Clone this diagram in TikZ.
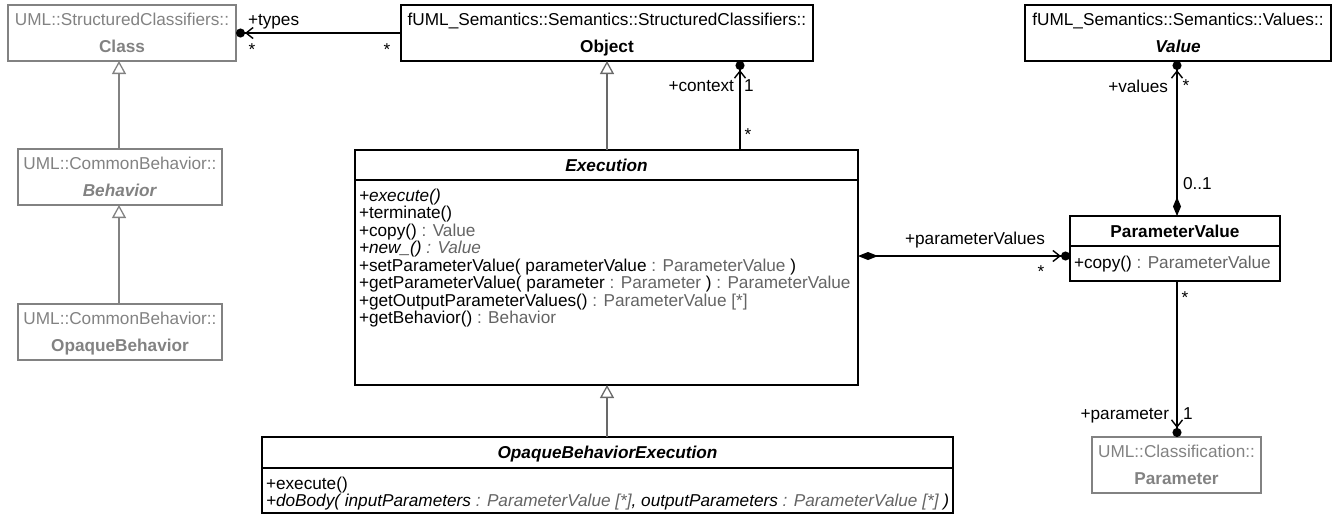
\documentclass[tikz,border=0pt]{standalone}
\usepackage{fontspec}
\setmainfont{Liberation Sans}
\usetikzlibrary{arrows.meta}
\definecolor{boxgray}{RGB}{130,130,130}
\definecolor{typegray}{RGB}{100,100,100}
\definecolor{gengray}{RGB}{105,105,105}
\newcommand{\tg}[1]{\textcolor{typegray}{#1}}
\begin{document}
\begin{tikzpicture}[x=1pt,y=-1pt,
  every node/.style={font=\fontsize{17.2}{17.5}\selectfont, inner sep=0pt, outer sep=0pt},
  blackbox/.style={draw=black, line width=1.3pt, anchor=north west, minimum width=#1},
  graybox/.style={draw=boxgray, line width=1.3pt, anchor=north west, minimum width=#1},
  grytxt/.style={text=boxgray, anchor=base},
  hdr/.style={anchor=base},
  op/.style={anchor=base west},
  assoc/.style={draw=black, line width=1.4pt},
  gen/.style={line width=1.3pt, draw=#1, -{Triangle[open, length=13pt, width=14pt]}},
  sep/.style={draw=black, line width=1.3pt}
]
\useasboundingbox (0,0) rectangle (1338,523);

% ---------- boxes ----------
\node[graybox=228pt, minimum height=56pt] (cls) at (8,5) {};
\node[grytxt] (clsA) at (122,25) {UML::StructuredClassifiers::};
\node[grytxt] (clsB) at (122,52) {\textbf{Class}};

\node[graybox=204pt, minimum height=56pt] (beh) at (18,149) {};
\node[grytxt] (behA) at (120,169) {UML::CommonBehavior::};
\node[grytxt] (behB) at (120,196) {\textbf{\textit{Behavior}}};

\node[graybox=204pt, minimum height=56pt] (obh) at (18,304) {};
\node[grytxt] (obhA) at (120,324) {UML::CommonBehavior::};
\node[grytxt] (obhB) at (120,351) {\textbf{OpaqueBehavior}};

\node[blackbox=412pt, minimum height=56pt] (obj) at (401,5) {};
\node[hdr] (objA) at (607,25) {fUML\_Semantics::Semantics::StructuredClassifiers::};
\node[hdr] (objB) at (607,52) {\textbf{Object}};

\node[blackbox=306pt, minimum height=56pt] (val) at (1025,5) {};
\node[hdr] (valA) at (1178,25) {fUML\_Semantics::Semantics::Values::};
\node[hdr] (valB) at (1178,52) {\textbf{\textit{Value}}};

\node[blackbox=503pt, minimum height=235pt] (ex) at (355,150) {};
\draw[sep] (ex.west |- 0,180) -- (ex.east |- 0,180);
\node[hdr] (exT) at (606.5,171) {\textbf{\textit{Execution}}};
\node[op] (ex1) at (359,201) {\textit{+execute()}};
\node[op] (ex2) at (359,218.5) {+terminate()};
\node[op] (ex3) at (359,236) {+copy() \tg{: Value}};
\node[op] (ex4) at (359,253.5) {\textit{+new\_() \tg{: Value}}};
\node[op] (ex5) at (359,271) {+setParameterValue( parameterValue \tg{: ParameterValue} )};
\node[op] (ex6) at (359,288.5) {+getParameterValue( parameter \tg{: Parameter} ) \tg{: ParameterValue}};
\node[op] (ex7) at (359,306) {+getOutputParameterValues() \tg{: ParameterValue [*]}};
\node[op] (ex8) at (359,323.5) {+getBehavior() \tg{: Behavior}};

\node[blackbox=691pt, minimum height=76pt] (obe) at (262,437) {};
\draw[sep] (obe.west |- 0,468) -- (obe.east |- 0,468);
\node[hdr] (obeT) at (607.5,458) {\textbf{\textit{OpaqueBehaviorExecution}}};
\node[op] (obe1) at (266,489) {+execute()};
\node[op] (obe2) at (266,506) {\textit{+doBody( inputParameters \tg{: ParameterValue [*]}, outputParameters \tg{: ParameterValue [*]} )}};

\node[blackbox=210pt, minimum height=65pt] (pv) at (1070,216) {};
\draw[sep] (pv.west |- 0,246) -- (pv.east |- 0,246);
\node[hdr] (pvT) at (1175,237) {\textbf{ParameterValue}};
\node[op] (pv1) at (1074,268) {+copy() \tg{: ParameterValue}};

\node[graybox=169pt, minimum height=56pt] (par) at (1092,437) {};
\node[grytxt] (parA) at (1176.5,457) {UML::Classification::};
\node[grytxt] (parB) at (1176.5,484) {\textbf{Parameter}};

% ---------- helper coordinates ----------
\coordinate (gx) at (607,0);
\coordinate (lx) at (119,0);
\coordinate (cx) at (740,0);
\coordinate (vx) at (1177,0);
\coordinate (pvy) at (0,256);

% ---------- generalizations ----------
\draw[gen=gengray] (ex.north -| gx) -- (obj.south -| gx);
\draw[gen=gengray] (obe.north -| gx) -- (ex.south -| gx);
\draw[gen=boxgray] (beh.north -| lx) -- (cls.south -| lx);
\draw[gen=boxgray] (obh.north -| lx) -- (beh.south -| lx);

% ---------- associations ----------
\draw[assoc, -{Straight Barb[length=7pt,width=11pt] Circle[length=9pt,width=9pt]}] (obj.west) -- (cls.east);
\draw[assoc, -{Straight Barb[length=7pt,width=11pt] Circle[length=9pt,width=9pt]}] (ex.north -| cx) -- (obj.south -| cx);
\draw[assoc, {Diamond[length=20pt,width=8pt]}-{Straight Barb[length=7pt,width=11pt] Circle[length=9pt,width=9pt]}] (ex.east |- pvy) -- (pv.west |- pvy);
\draw[assoc, {Diamond[length=19pt,width=8pt]}-{Straight Barb[length=7pt,width=11pt] Circle[length=9pt,width=9pt]}] (pv.north -| vx) -- (val.south -| vx);
\draw[assoc, -{Straight Barb[length=7pt,width=11pt] Circle[length=9pt,width=9pt]}] (pv.south -| vx) -- (par.north -| vx);

% ---------- labels ----------
\node[anchor=base west] (lTypes) at (248,25) {+types};
\node[anchor=base] (mT1) at (252,55) {*};
\node[anchor=base] (mT2) at (387,55) {*};
\node[anchor=base east] (lCtx) at (734,91) {+context};
\node[anchor=base] (mC1) at (749,91) {1};
\node[anchor=base] (mC2) at (748,140) {*};
\node[anchor=base east] (lVal) at (1168,92) {+values};
\node[anchor=base] (mV1) at (1186,91) {*};
\node[anchor=base west] (mV2) at (1183,189) {0..1};
\node[anchor=base] (lPV) at (975,244) {+parameterValues};
\node[anchor=base] (mP1) at (1041,277) {*};
\node[anchor=base] (mP2) at (1185,303) {*};
\node[anchor=base east] (lPar) at (1169,419) {+parameter};
\node[anchor=base] (mP3) at (1188,419) {1};
\end{tikzpicture}
\end{document}
